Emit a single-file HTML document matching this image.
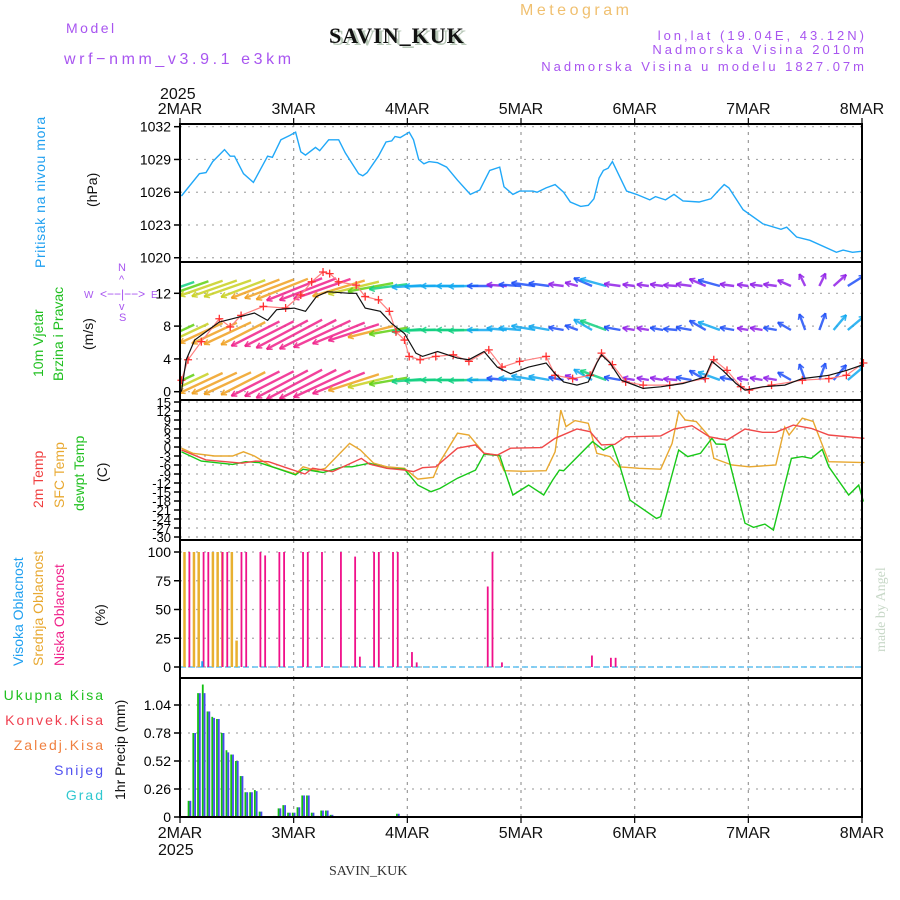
<!DOCTYPE html>
<html><head><meta charset="utf-8"><style>
html,body{margin:0;padding:0;background:#fff;width:900px;height:900px;overflow:hidden}
svg{display:block}
text{font-family:"Liberation Sans",sans-serif}
</style></head><body>
<svg id="chart" width="900" height="900" viewBox="0 0 900 900" xmlns="http://www.w3.org/2000/svg">
<defs><clipPath id="windClip"><rect x="181" y="263" width="680" height="136"/></clipPath></defs>
<rect x="0" y="0" width="900" height="900" fill="#fff"/>
<text x="66" y="33" font-size="14" fill="#a855f0" letter-spacing="2.5">Model</text>
<text x="64" y="64" font-size="16" fill="#a855f0" letter-spacing="3.6">wrf−nmm_v3.9.1 e3km</text>
<text x="332" y="45" font-size="22" font-weight="bold" fill="#b8c8b8" letter-spacing="1" style="font-family:'Liberation Serif',serif">SAVIN_KUK</text>
<text x="329" y="43" font-size="22" font-weight="bold" fill="#111" letter-spacing="1" style="font-family:'Liberation Serif',serif">SAVIN_KUK</text>
<text x="520" y="15" font-size="16" fill="#f0c070" letter-spacing="3.5">Meteogram</text>
<text x="867" y="40" font-size="13" fill="#a855f0" text-anchor="end" letter-spacing="3">lon,lat (19.04E, 43.12N)</text>
<text x="867" y="54" font-size="13" fill="#a855f0" text-anchor="end" letter-spacing="3">Nadmorska Visina 2010m</text>
<text x="867" y="71" font-size="13" fill="#a855f0" text-anchor="end" letter-spacing="3">Nadmorska Visina u modelu 1827.07m</text>
<text x="160" y="99" font-size="16" fill="#111">2025</text>
<text x="158" y="855" font-size="16" fill="#111">2025</text>
<text x="329" y="875" font-size="14" fill="#333" style="font-family:'Liberation Serif',serif">SAVIN_KUK</text>
<text transform="translate(885,652) rotate(-90)" font-size="14" fill="#c8d8c8" style="font-family:'Liberation Serif',serif">made by Angel</text>

<text transform="translate(45,268) rotate(-90)" font-size="14" fill="#20a0f0" letter-spacing="0.6">Pritisak na nivou mora</text>
<text transform="translate(97,207) rotate(-90)" font-size="14" fill="#111">(hPa)</text>
<text transform="translate(43,377) rotate(-90)" font-size="14" fill="#20c020">10m Vjetar</text>
<text transform="translate(63,381) rotate(-90)" font-size="14" fill="#20c020">Brzina i Pravac</text>
<text transform="translate(93,350) rotate(-90)" font-size="14" fill="#111">(m/s)</text>
<text x="118" y="271" font-size="11" fill="#a855f0">N</text>
<text x="119" y="283" font-size="11" fill="#a855f0">^</text>
<text x="100" y="298" font-size="12" fill="#a855f0">&lt;−−|−−&gt;</text>
<text x="84" y="298" font-size="10" fill="#a855f0">W</text>
<text x="151" y="298" font-size="10" fill="#a855f0">E</text>
<text x="119" y="310" font-size="11" fill="#a855f0">v</text>
<text x="119" y="321" font-size="11" fill="#a855f0">S</text>
<text transform="translate(43,508) rotate(-90)" font-size="14" fill="#f04040">2m Temp</text>
<text transform="translate(64,508) rotate(-90)" font-size="14" fill="#e8a830">SFC Temp</text>
<text transform="translate(84,511) rotate(-90)" font-size="14" fill="#20c020">dewpt Temp</text>
<text transform="translate(107,482) rotate(-90)" font-size="14" fill="#111">(C)</text>
<text transform="translate(23,666) rotate(-90)" font-size="14" fill="#20a0f0">Visoka Oblacnost</text>
<text transform="translate(43,666) rotate(-90)" font-size="14" fill="#e8a830">Srednja Oblacnost</text>
<text transform="translate(64,666) rotate(-90)" font-size="14" fill="#f0208a">Niska Oblacnost</text>
<text transform="translate(105,626) rotate(-90)" font-size="14" fill="#111">(%)</text>
<text x="105" y="700" font-size="14" fill="#20c020" text-anchor="end" letter-spacing="2">Ukupna Kisa</text>
<text x="105" y="725" font-size="14" fill="#f04050" text-anchor="end" letter-spacing="2">Konvek.Kisa</text>
<text x="105" y="750" font-size="14" fill="#f08040" text-anchor="end" letter-spacing="2">Zaledj.Kisa</text>
<text x="105" y="775" font-size="14" fill="#5050f0" text-anchor="end" letter-spacing="2">Snijeg</text>
<text x="105" y="800" font-size="14" fill="#30c8d0" text-anchor="end" letter-spacing="2">Grad</text>
<text transform="translate(125,800) rotate(-90)" font-size="14" fill="#111">1hr Precip (mm)</text>
<g id="plot"></g>
</svg>
<script>
// ---- data ----
const dayLabels = ["2MAR","3MAR","4MAR","5MAR","6MAR","7MAR","8MAR"];
const pressTicks = [1020,1023,1026,1029,1032];
const windTicks = [0,4,8,12];
const tempTicks = [15,12,9,6,3,0,-3,-6,-9,-12,-15,-18,-21,-24,-27,-30];
const cloudTicks = [0,25,50,75,100];
const precipTicks = [0,0.26,0.52,0.78,1.04];

const pressHours = [0.3,4.1,5.5,6.9,9.4,10.6,11.5,13.4,15.5,18.5,19.5,21.3,23.2,24.4,25.5,26.5,28.6,29.5,31.4,33.5,34.9,37.7,38.6,39.5,41.9,43.5,44.7,45.4,46.5,48.4,49.3,50.4,51.5,52.6,54.4,56.3,58.6,61.3,63.3,65.4,67.5,68.4,70.3,71.7,74.5,75.4,77.3,79.2,81.0,82.4,84.6,86.2,87.4,88.5,89.4,90.4,91.3,94.3,96.4,99.2,100.4,102.5,104.3,106.2,109.6,112.1,113.8,114.9,115.9,118.9,123.1,126.9,128.1,130.2,133.0,138.6,140.0,142.0,144.1];
const pressVals = [1025.65,1027.7,1027.8,1028.8,1029.9,1029.3,1029.3,1027.7,1026.9,1029.3,1029.2,1030.8,1031.2,1031.5,1029.7,1029.4,1030.1,1029.8,1030.8,1030.8,1029.6,1027.7,1027.5,1027.8,1029.3,1030.6,1030.7,1031.1,1031.0,1031.5,1030.8,1029.0,1028.6,1028.8,1028.7,1028.3,1027.1,1025.8,1026.2,1028.0,1028.3,1026.5,1025.8,1026.1,1026.1,1026.0,1026.4,1026.7,1026.0,1025.1,1024.7,1024.8,1025.4,1027.3,1028.0,1028.2,1028.8,1026.1,1025.8,1025.3,1025.6,1025.3,1025.8,1025.2,1025.1,1025.4,1026.2,1026.7,1026.4,1024.4,1023.1,1022.6,1022.8,1021.9,1021.6,1020.5,1020.7,1020.5,1020.6];

const speedHours = [0.3,1.3,3.1,8.3,11.1,15.7,18.5,20.4,24.1,26.5,28.8,31.1,35.8,37.2,39.1,42.3,44.7,47.4,49.8,51.2,54.4,58.6,61.0,64.2,67.0,69.8,73.6,77.3,79.2,81.0,83.8,86.2,88.0,89.0,90.8,93.2,97.8,101.5,106.2,110.9,112.3,114.6,117.4,119.3,123.0,127.7,131.4,137.0,140.7,144.3];
const speedVals = [0,3.9,6.3,8.5,8.9,9.6,8.7,10.0,10.2,9.8,11.6,12.2,12.0,12.0,10.2,9.8,8.3,7.1,4.7,4.3,4.9,4.1,3.9,4.9,3.0,2.2,3.0,3.5,2.2,1.2,0.8,1.2,3.5,4.5,3.5,1.4,0.4,0.6,1.0,1.8,3.7,2.6,1.0,0.2,0.6,0.8,1.6,2.0,2.6,3.3];
const gustHours = [0.3,1.7,4.5,8.3,10.6,12.9,17.6,22.3,25.5,27.8,30.2,31.6,33.5,37.2,39.1,41.9,44.2,45.6,47.4,48.4,50.7,54.0,57.7,61.0,65.2,68.0,71.7,77.3,79.2,82.9,86.6,89.0,91.3,94.1,97.8,103.4,110.9,112.7,115.5,118.4,120.2,124.9,131.4,137.0,140.7,144.3];
const gustVals = [1.4,3.9,6.1,8.9,7.9,9.3,10.4,10.2,11.8,13.4,14.6,14.4,13.4,13.0,11.6,11.2,9.8,7.3,6.3,4.3,3.9,4.3,4.5,3.7,5.1,3.0,3.7,4.3,2.0,1.6,2.0,4.7,3.3,1.2,0.8,0.8,1.6,3.9,2.6,0.6,0.2,0.8,1.4,1.6,2.0,3.5];

const barbHours = [0,3,6,9,12,15,18,21,24,27,30,33,36,39,42,45,48,51,54,57,60,63,66,69,72,75,78,81,84,87,90,93,96,99,102,105,108,111,114,117,120,123,126,129,132,135,138,141,144];
const barbSpeed = [1,6,7.5,8.5,9,9.5,9,10,10.2,11,12,12.2,12,10.5,9.8,8.3,6.5,4.5,4.8,4.3,4,4.5,3.5,2.3,2.8,3.2,2.5,1.2,0.8,2.5,4,1.5,0.5,0.5,0.7,0.9,1.3,2,3,1,0.3,0.6,0.8,1.2,1.6,1.8,2.2,2.7,3.3];
const barbDir = [60,65,65,65,65,65,63,63,63,62,62,63,65,68,72,76,80,85,88,90,90,88,90,95,95,100,100,100,110,120,110,100,100,100,100,95,100,120,110,100,100,100,100,120,160,200,220,230,230];

const t2Hours = [0.3,5.5,13.1,15.9,18.7,22.4,26.4,28.0,32.2,38.3,40.0,43.7,47.4,49.3,51.2,54.0,58.6,62.4,64.2,67.0,69.8,76.4,79.2,83.8,86.6,89.0,91.8,94.1,101.5,104.3,108.1,111.8,115.5,119.3,123.0,125.8,129.5,133.3,137.0,144.5];
const t2Vals = [-1.0,-4.3,-5.4,-4.7,-4.9,-6.9,-9.0,-7.1,-8.2,-3.8,-5.7,-7.1,-7.7,-8.2,-6.9,-6.6,-0.4,0.7,-2.1,-2.7,-0.4,-0.2,2.9,6.0,5.1,0.7,0.9,3.4,3.7,6.0,7.1,3.4,2.3,6.0,4.9,4.9,7.3,6.2,4.0,2.9];
const sfcHours = [0.3,2.7,7.3,11.1,13.4,15.7,19.5,24.4,26.0,28.8,30.7,35.8,38.1,40.9,43.7,47.4,50.2,53.5,54.9,58.6,61.0,64.2,67.0,68.4,72.6,77.3,79.2,80.4,81.5,83.4,86.2,88.0,90.8,92.7,96.9,101.5,103.9,105.3,106.7,109.0,111.8,112.7,116.5,120.2,125.8,127.7,128.6,131.4,133.7,137.0,144.5];
const sfcVals = [-0.4,-2.1,-3.0,-3.0,-1.6,-3.0,-6.6,-9.0,-6.6,-7.9,-7.1,1.2,-1.0,-5.4,-6.6,-7.1,-10.7,-10.1,-4.9,4.6,4.0,-2.1,-2.7,-7.9,-8.1,-7.9,-1.6,12.3,6.8,8.8,7.9,-2.1,-3.2,-6.6,-7.1,-7.4,1.2,11.8,9.0,8.5,3.4,-3.8,-6.0,-6.6,-6.0,6.6,4.0,9.6,8.5,-4.9,-5.2];
const dewHours = [0.3,4.5,11.1,13.9,16.7,20.4,24.4,26.0,30.2,34.4,36.3,40.0,43.7,47.4,50.2,53.0,54.9,58.6,62.4,64.2,67.5,70.3,73.6,76.8,78.7,80.1,81.0,87.1,89.4,91.3,92.7,95.0,100.6,101.5,105.3,107.2,109.9,112.3,113.2,115.1,119.3,121.1,123.5,125.3,129.1,131.4,133.3,135.6,137.0,141.2,143.3,144.3];
const dewVals = [-1.6,-4.7,-5.8,-4.9,-5.2,-7.1,-9.3,-7.4,-8.5,-6.6,-6.6,-5.4,-7.1,-7.4,-12.7,-14.9,-13.8,-10.4,-7.7,-2.4,-2.9,-16.0,-12.7,-16.0,-11.0,-7.7,-7.9,1.8,-1.0,0.7,-5.4,-17.7,-23.8,-23.2,-1.0,-3.2,-2.1,2.9,1.0,0.9,-25.4,-26.8,-25.7,-27.7,-3.8,-3.2,-3.8,-0.8,-6.6,-16.0,-12.7,-18.2];

const midCloudHours = [1,3,4,7,8,9,11,12];
const midCloudVals = [100,100,100,100,100,100,100,23];
const lowCloudHours = [2,5,6,9,10,13,14,17,18,21,22,26,27,30,34,37,38,41,42,45,46,49,50,65,66,68,87,91,92];
const lowCloudVals = [100,100,100,100,100,100,100,100,97,100,100,100,100,100,100,96,9,100,100,100,100,13,4,70,100,4,10,8,8];
const highCloudHours = [4.7];
const highCloudVals = [5];

const precipHours = [2,3,4,5,6,7,8,9,10,11,12,13,14,15,16,17,20,21,22,23,24,25,26,27,28,29,30,31,32,46];
const totalPrecip = [0.15,0.78,1.15,1.23,0.98,0.93,0.91,0.78,0.62,0.58,0.52,0.38,0.23,0.23,0.25,0.05,0.01,0.08,0.11,0.04,0.04,0.09,0.2,0.2,0.04,0.01,0.06,0.06,0.02,0.03];
const snowPrecip = [0.15,0.78,1.15,1.15,0.98,0.92,0.91,0.78,0.6,0.58,0.52,0.38,0.23,0.23,0.24,0.05,0.01,0.08,0.11,0.04,0.04,0.09,0.2,0.2,0.04,0.01,0.06,0.06,0.02,0.03];

// ---- scales ----
const X0 = 180, X1 = 862;
const xH = h => X0 + h * (X1 - X0) / 144;
const yP = p => 126.7 + (1032 - p) * 10.92;
const yW = s => 391.7 - s * 8.2;
const yT = t => 447 - t * 3;
const yC = c => 667 - c * 1.15;
const yR = v => 817 - v * 107.7;
const panels = [
  {name:'pressure', top:124, bot:262, ticks:pressTicks, y:yP},
  {name:'wind', top:262, bot:400, ticks:windTicks, y:yW},
  {name:'temperature', top:400, bot:540, ticks:tempTicks, y:yT},
  {name:'cloud', top:540, bot:678, ticks:cloudTicks, y:yC},
  {name:'precip', top:678, bot:817, ticks:precipTicks, y:yR}
];

const NS = 'http://www.w3.org/2000/svg';
const plot = document.getElementById('plot');
function mk(tag, attrs, parent) {
  const e = document.createElementNS(NS, tag);
  for (const k in attrs) e.setAttribute(k, attrs[k]);
  (parent || plot).appendChild(e);
  return e;
}
function pathFrom(hs, vs, yf) {
  return hs.map((h, i) => (i ? 'L' : 'M') + xH(h).toFixed(1) + ',' + yf(vs[i]).toFixed(1)).join(' ');
}

panels.forEach(p => {
  const g = mk('g', {});
  
  
  p.ticks.forEach(t => {
    const y = p.y(t);
    const gl = mk('line', {x1:X0, x2:X1, y1:y, y2:y, stroke:'#aaa', 'stroke-width':1.2, 'stroke-dasharray':'2,6'}, g);
    
    
    mk('line', {x1:174, x2:180, y1:y, y2:y, stroke:'#000', 'stroke-width':1.5}, g);
    const tx = mk('text', {x:171, y:y+5, 'font-size': p.name==='temperature'?13:14, 'text-anchor':'end', fill:'#000'}, g);
    tx.textContent = String(t);
    
    
  });
  for (let d = 1; d < 6; d++) {
    const vx = xH(d * 24);
    const vl = mk('line', {x1:vx, x2:vx, y1:p.top, y2:p.bot, stroke:'#999', 'stroke-width':1.2, 'stroke-dasharray':'3,5'}, g);
    
    
  }
});

// ---- pressure ----
const pl = mk('path', {d:pathFrom(pressHours, pressVals, yP), fill:'none', stroke:'#20a8f8', 'stroke-width':1.4});



// ---- wind barbs ----
function barbColor(s, row) {
  const v = s + (row === 0 ? -1 : row === 1 ? 0.8 : 0.5);
  if (v < 1.5) return '#9020e8';
  if (v < 3) return '#2050f8';
  if (v < 4.5) return '#10a8f0';
  if (v < 6) return '#10d080';
  if (v < 7.5) return '#60d010';
  if (v < 9) return '#c8d020';
  if (v < 10.5) return '#f0a020';
  return '#f0208a';
}
const windLayer = mk('g', {'clip-path':'url(#windClip)'});


const rowY = [286, 330, 380];
rowY.forEach((ry, ri) => {
  const g = mk('g', {}, windLayer);
  
  
  barbHours.forEach((h, i) => {
    const s = barbSpeed[i], d = barbDir[i] * Math.PI / 180;
    const len = 10 + s * 4.4;
    const dx = -Math.sin(d) * len, dy = Math.cos(d) * len * (ri === 0 ? 0.75 : 1);
    const x0 = xH(h), y0 = ry - (dy > 0 ? dy * 0.35 : 0);
    const x1 = x0 + dx, y1 = y0 + dy;
    const col = barbColor(s, ri);
    const a = mk('g', {stroke:col, 'stroke-width':2.4, fill:'none', 'stroke-opacity':0.85}, g);
    
    
    mk('line', {x1:x0, y1:y0, x2:x1, y2:y1}, a);
    const ang = Math.atan2(y1 - y0, x1 - x0);
    [0.5, -0.5].forEach(o => {
      mk('line', {x1:x1, y1:y1, x2:x1 - 6 * Math.cos(ang + o), y2:y1 - 6 * Math.sin(ang + o), 'stroke-width':1.5}, a);
    });
  });
});
const gl2 = mk('path', {d:pathFrom(gustHours, gustVals, yW), fill:'none', stroke:'#ff8080', 'stroke-width':1.2});


gustHours.forEach((h, i) => {
  const x = xH(h), y = yW(gustVals[i]);
  const m = mk('path', {d:`M${x-4},${y}H${x+4}M${x},${y-4}V${y+4}`, stroke:'#ff3030', 'stroke-width':1.3});
  
  
});
const sl = mk('path', {d:pathFrom(speedHours, speedVals, yW), fill:'none', stroke:'#111', 'stroke-width':1.2});



// ---- temperature ----
const tS = mk('path', {d:pathFrom(sfcHours, sfcVals, yT), fill:'none', stroke:'#e8a830', 'stroke-width':1.4});


const tD = mk('path', {d:pathFrom(dewHours, dewVals, yT), fill:'none', stroke:'#18c818', 'stroke-width':1.4});


const t2 = mk('path', {d:pathFrom(t2Hours, t2Vals, yT), fill:'none', stroke:'#f04848', 'stroke-width':1.4});



// ---- clouds ----
const cb = mk('line', {x1:X0, x2:X1, y1:yC(0), y2:yC(0), stroke:'#60c0f0', 'stroke-width':1.5, 'stroke-dasharray':'6,3'});


midCloudHours.forEach((h, i) => {
  const b = mk('rect', {x:xH(h) - 1.5, y:yC(midCloudVals[i]), width:2.5, height:yC(0) - yC(midCloudVals[i]), fill:'#e8b030'});
  
  
});
lowCloudHours.forEach((h, i) => {
  const b = mk('rect', {x:xH(h) - 1, y:yC(lowCloudVals[i]), width:1.8, height:yC(0) - yC(lowCloudVals[i]), fill:'#f0108a'});
  
  
});
highCloudHours.forEach((h, i) => {
  const b = mk('rect', {x:xH(h) - 1, y:yC(highCloudVals[i]), width:2, height:yC(0) - yC(highCloudVals[i]), fill:'#20a0f0'});
  
  
});

// ---- precip ----
precipHours.forEach((h, i) => {
  const x = xH(h);
  const g = mk('rect', {x:x - 1.8, y:yR(totalPrecip[i]), width:1.8, height:yR(0) - yR(totalPrecip[i]), fill:'#10c010'});
  
  
  const s = mk('rect', {x:x, y:yR(snowPrecip[i]), width:1.8, height:yR(0) - yR(snowPrecip[i]), fill:'#4848f0'});
  
  
});

// ---- frames & x labels ----
panels.forEach(p => {
  const r = mk('rect', {x:X0, y:p.top, width:X1 - X0, height:p.bot - p.top, fill:'none', stroke:'#000', 'stroke-width':2});
  
  
});
dayLabels.forEach((lab, d) => {
  const x = xH(d * 24);
  mk('line', {x1:x, x2:x, y1:118, y2:124, stroke:'#000', 'stroke-width':1.2});
  mk('line', {x1:x, x2:x, y1:817, y2:823, stroke:'#000', 'stroke-width':1.2});
  const t1 = mk('text', {x:x, y:114, 'font-size':16, 'text-anchor':'middle', fill:'#111'});
  t1.textContent = lab;
  
  
  const t2b = mk('text', {x:x, y:838, 'font-size':16, 'text-anchor':'middle', fill:'#111'});
  t2b.textContent = lab;
  
  
});
</script>
</body></html>
